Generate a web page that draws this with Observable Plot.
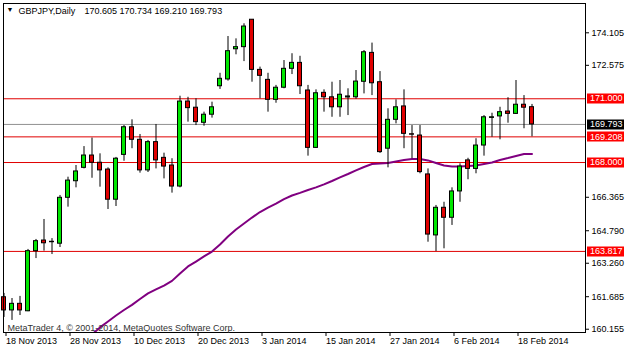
<!DOCTYPE html>
<html><head><meta charset="utf-8">
<script src="https://cdn.jsdelivr.net/npm/d3@7"></script>
<script src="https://cdn.jsdelivr.net/npm/@observablehq/plot@0.6"></script>
<style>
body{margin:0;background:#fff;}
#chart svg{display:block;}
</style></head><body><div id="chart"></div>
<script>
const symbolName = "GBPJPY,Daily";
const lastOHLC = "170.605 170.734 169.210 169.793";
const copyright = "MetaTrader 4, \u00a9 2001-2014, MetaQuotes Software Corp.";

const dates = ["18 Nov 2013","19 Nov 2013","20 Nov 2013","21 Nov 2013","22 Nov 2013","25 Nov 2013","26 Nov 2013","27 Nov 2013","28 Nov 2013","29 Nov 2013",
"2 Dec 2013","3 Dec 2013","4 Dec 2013","5 Dec 2013","6 Dec 2013","9 Dec 2013","10 Dec 2013","11 Dec 2013","12 Dec 2013","13 Dec 2013",
"16 Dec 2013","17 Dec 2013","18 Dec 2013","19 Dec 2013","20 Dec 2013","23 Dec 2013","24 Dec 2013","26 Dec 2013","27 Dec 2013","30 Dec 2013",
"31 Dec 2013","2 Jan 2014","3 Jan 2014","6 Jan 2014","7 Jan 2014","8 Jan 2014","9 Jan 2014","10 Jan 2014","13 Jan 2014","14 Jan 2014",
"15 Jan 2014","16 Jan 2014","17 Jan 2014","20 Jan 2014","21 Jan 2014","22 Jan 2014","23 Jan 2014","24 Jan 2014","27 Jan 2014","28 Jan 2014",
"29 Jan 2014","30 Jan 2014","31 Jan 2014","3 Feb 2014","4 Feb 2014","5 Feb 2014","6 Feb 2014","7 Feb 2014","10 Feb 2014","11 Feb 2014",
"12 Feb 2014","13 Feb 2014","14 Feb 2014","17 Feb 2014","18 Feb 2014","19 Feb 2014","20 Feb 2014"];

const open = [161.66,161.04,161.35,161.00,163.83,164.33,164.25,164.18,166.34,167.12,
167.75,168.33,167.99,167.67,166.25,168.36,169.66,169.07,167.63,168.96,
168.22,167.86,166.87,170.87,170.58,169.87,170.25,171.59,171.91,173.33,
173.43,174.72,172.36,171.89,170.95,171.52,172.41,172.69,171.39,168.69,
171.28,171.07,170.60,171.06,171.07,171.80,173.16,171.78,168.65,170.01,
170.64,169.33,169.27,167.44,164.57,165.87,165.40,166.64,168.10,167.70,
168.80,170.10,170.17,170.40,170.29,170.72,170.605];
const high = [161.84,161.60,161.70,163.91,164.38,165.32,164.42,166.45,167.31,167.86,
168.75,169.15,168.41,167.75,168.24,169.74,170.01,169.32,169.04,169.79,
168.44,168.18,171.12,171.07,171.00,170.37,170.84,172.20,173.93,173.82,
174.53,174.73,172.49,172.20,171.63,172.80,173.12,173.00,171.63,171.42,
171.42,171.78,171.86,171.47,172.33,173.27,173.62,172.28,170.53,170.95,
171.42,169.74,169.74,167.70,165.98,166.13,166.81,167.94,168.20,169.12,
170.21,170.32,170.60,171.05,171.86,171.15,170.734];
const low = [160.71,160.57,160.80,160.98,163.48,163.83,163.67,164.00,165.90,166.81,
167.70,167.26,166.84,165.79,165.93,168.06,168.65,167.50,167.53,167.70,
167.23,166.56,166.81,169.90,169.74,169.71,170.09,171.44,171.83,173.07,
172.75,171.78,171.00,170.37,170.79,171.47,172.14,171.20,168.30,168.66,
170.37,170.13,170.13,170.21,170.98,171.23,171.15,168.43,167.75,169.82,
168.65,168.18,167.47,164.25,163.81,163.94,165.04,166.13,167.19,167.47,
168.30,169.19,169.07,169.85,170.26,169.59,169.210];
const close = [161.04,161.35,161.04,163.83,164.30,164.20,164.27,166.34,167.15,167.58,
168.33,167.99,167.63,166.25,168.18,169.66,169.07,167.63,168.96,168.10,
167.81,166.87,170.87,170.56,169.90,170.25,170.60,171.94,173.24,173.43,
174.40,172.36,172.08,170.95,171.52,172.41,172.69,171.59,168.69,171.26,
171.07,170.60,171.19,171.11,171.81,173.19,171.73,168.49,170.01,170.60,
169.35,169.31,167.55,164.61,165.87,165.40,166.64,167.81,167.70,168.80,
170.13,170.13,170.37,170.29,170.72,170.58,169.793];
const movingAvg = [null,null,null,null,null,null,null,null,null,null,
null,159.91,160.24,160.52,160.80,161.06,161.30,161.58,161.84,162.03,
162.21,162.43,162.78,163.11,163.34,163.58,163.81,164.14,164.52,164.85,
165.13,165.41,165.67,165.88,166.07,166.28,166.45,166.57,166.71,166.83,
166.97,167.13,167.30,167.46,167.63,167.79,167.93,167.95,167.98,168.05,
168.12,168.17,168.17,168.10,167.98,167.86,167.81,167.81,167.84,167.86,
167.93,168.00,168.12,168.21,168.31,168.40,168.40];

const levels = [171.000, 169.208, 168.000, 163.817];
const bidPrice = 169.793;
const yTicks = [174.105, 172.575, 166.365, 164.790, 163.260, 161.685, 160.155];
const xTickDates = ["18 Nov 2013","28 Nov 2013","10 Dec 2013","20 Dec 2013","3 Jan 2014","15 Jan 2014","27 Jan 2014","6 Feb 2014","18 Feb 2014"];

const bars = dates.map((d, i) => ({i, date: d, o: open[i], h: high[i], l: low[i], c: close[i], ma: movingAvg[i]}));
const xTicks = xTickDates.map(d => dates.indexOf(d));
const font = "'Liberation Sans', Arial, sans-serif";

const plot = Plot.plot({
  width: 628, height: 350,
  marginLeft: 3, marginRight: 43, marginTop: 3, marginBottom: 18,
  style: {fontFamily: font, fontSize: "9px", background: "#fff", color: "#000", overflow: "visible"},
  x: {type: "linear", domain: [-0.0625, 72.6875], label: null},
  y: {domain: [160.001, 175.484], label: null},
  marks: [
    Plot.ruleY(levels, {stroke: "#e00000", strokeWidth: 1}),
    Plot.ruleY([bidPrice], {stroke: "#909090", strokeWidth: 1}),
    Plot.line(bars.filter(b => b.ma != null), {x: "i", y: "ma", stroke: "#800080", strokeWidth: 2, clip: true}),
    Plot.ruleX(bars, {x: "i", y1: "l", y2: "h", stroke: "#000", strokeWidth: 1}),
    Plot.rect(bars, {x1: d => d.i - 0.25, x2: d => d.i + 0.25, y1: "o", y2: "c",
      fill: d => d.c >= d.o ? "#00e600" : "#e00000", stroke: "#000", strokeWidth: 1}),
    Plot.frame({stroke: "#000"}),
    Plot.axisY({anchor: "right", ticks: yTicks, tickFormat: d3.format(".3f"), tickSize: 3, tickPadding: 3, fontSize: 9, label: null}),
    Plot.axisX({ticks: xTicks, tickFormat: i => dates[i], tickSize: 4, tickPadding: 1, textAnchor: "start", dx: 2, fontSize: 9, label: null}),
    Plot.text(["\u25BC"], {frameAnchor: "top-left", dx: 3, dy: 4, fontSize: 7, textAnchor: "start", lineAnchor: "top"}),
    Plot.text([symbolName], {frameAnchor: "top-left", dx: 15, dy: 4.5, fontSize: 9, textAnchor: "start", lineAnchor: "top"}),
    Plot.text([lastOHLC], {frameAnchor: "top-left", dx: 81, dy: 4.5, fontSize: 9, textAnchor: "start", lineAnchor: "top"}),
    Plot.text([copyright], {frameAnchor: "bottom-left", dx: 4, dy: -2, fontSize: 9, fill: "#333", textAnchor: "start", lineAnchor: "bottom"})
  ]
});

document.getElementById("chart").appendChild(plot);

// price labels on the right, positioned with Plot's y scale
const ys = plot.scale("y");
const svg = d3.select(plot);
const labels = levels.map(v => ({v, bg: "#ff0000"})).concat([{v: bidPrice, bg: "#000"}]);
const g = svg.append("g").attr("font-family", font).attr("font-size", 9).attr("text-anchor", "start");
labels.forEach(({v, bg}) => {
  const yy = ys.apply(v);
  g.append("rect").attr("x", 587).attr("y", Math.round(yy) - 4.5).attr("width", 37).attr("height", 10).attr("fill", bg);
  g.append("text").attr("x", 590).attr("y", yy).attr("dy", "0.35em").attr("text-anchor", "start").attr("fill", "#fff").text(v.toFixed(3));
});
</script></body></html>
